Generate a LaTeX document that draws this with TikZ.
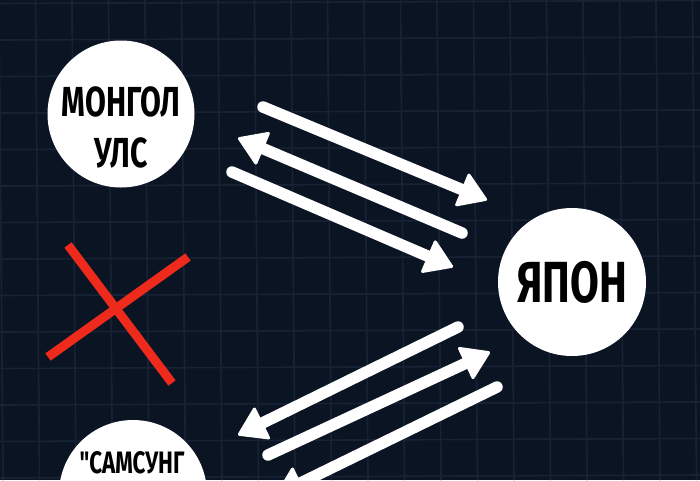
\documentclass[tikz,border=0pt]{standalone}
\usepackage{fontspec}
\newfontfamily\condf[FakeStretch=0.72]{Fira Sans}
\usetikzlibrary{arrows.meta}
\definecolor{bgcol}{HTML}{0B1423}
\definecolor{gridcol}{HTML}{172235}
\definecolor{xred}{HTML}{EE2A1C}
\tikzset{
  circ/.style={circle, fill=white, draw=none, minimum size=#1, inner sep=0pt},
  lbl/.style={text=black, align=center, inner sep=0pt},
  arr/.style={draw=white, line width=11.5pt, line cap=round,
    -{Triangle[length=29pt,width=37pt,line width=3pt,round]}},
  xline/.style={draw=xred, line width=9pt},
  gridline/.style={draw=gridcol, line width=1.6pt}
}
\begin{document}
\begin{tikzpicture}[x=1pt,y=-1pt]
\fill[bgcol] (0,0) rectangle (700,480);
\useasboundingbox (0,0) rectangle (700,480);
\begin{scope}
\clip (0,0) rectangle (700,480);
\foreach \i in {0,...,19} {
  \draw[gridline] ({-1+36.5*\i},0) -- ({-1+36.5*\i+4},480);
}
\foreach \j in {0,...,13} {
  \draw[gridline] (0,{3.5+36.5*\j}) -- (700,{3.5+36.5*\j-3});
}
\end{scope}

% circles
\node[circ=147pt] (mongol) at (121,114) {};
\node[lbl, font=\condf\bfseries\fontsize{42}{51}\selectfont] (mongoltxt) at (121,127) {МОНГОЛ\\УЛС};
\node[circ=148pt] (japan) at (572,282) {};
\node[lbl, font=\condf\bfseries\fontsize{58}{60}\selectfont] (japantxt) at (572,282) {ЯПОН};
\node[circ=148pt] (samsung) at (133,494) {};
\node[lbl, font=\condf\bfseries\fontsize{31}{40}\selectfont, anchor=north] (samsungtxt) at (132,451) {"САМСУНГ};

% arrow end points
\coordinate (a1s) at (263,107); \coordinate (a1e) at (487,200);
\coordinate (a2s) at (462,233); \coordinate (a2e) at (238,138);
\coordinate (a3s) at (232,172); \coordinate (a3e) at (453,267);
\coordinate (a4s) at (458,327); \coordinate (a4e) at (238,435);
\coordinate (a5s) at (268,455); \coordinate (a5e) at (490,352);
\coordinate (a6s) at (497,387); \coordinate (a6e) at (276,495);
\draw[arr] (a1s) -- (a1e);
\draw[arr] (a2s) -- (a2e);
\draw[arr] (a3s) -- (a3e);
\draw[arr] (a4s) -- (a4e);
\draw[arr] (a5s) -- (a5e);
\draw[arr] (a6s) -- (a6e);

% red cross
\coordinate (x1a) at (68,245); \coordinate (x1b) at (172,383);
\coordinate (x2a) at (48,357); \coordinate (x2b) at (188,257);
\draw[xline] (x1a) -- (x1b);
\draw[xline] (x2a) -- (x2b);
\end{tikzpicture}
\end{document}
